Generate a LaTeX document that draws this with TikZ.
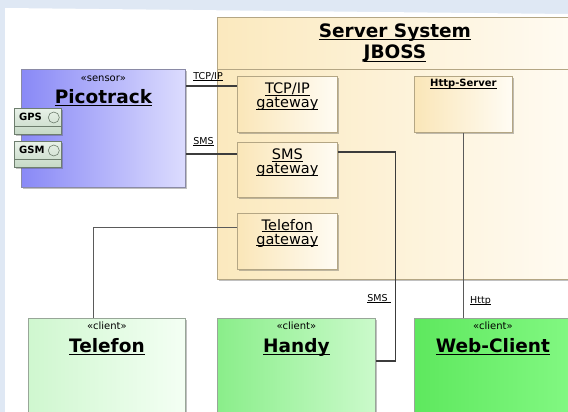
\documentclass[tikz,border=0pt]{standalone}
\usepackage{fontspec}
\setmainfont{DejaVu Sans}
\usetikzlibrary{positioning,shadows}
\definecolor{bgblue}{HTML}{DFE8F4}
\definecolor{linkgray}{HTML}{3C3C3C}
\definecolor{thingray}{HTML}{5A5A5A}
\definecolor{picoL}{HTML}{8989F6}
\definecolor{picoR}{HTML}{DCDCFE}
\definecolor{picoedge}{HTML}{8A8AA6}
\definecolor{srvL}{HTML}{FBE9BE}
\definecolor{srvR}{HTML}{FFFBF2}
\definecolor{srvedge}{HTML}{B4A684}
\definecolor{gwL}{HTML}{FAE6B8}
\definecolor{gwR}{HTML}{FFFCF4}
\definecolor{portT}{HTML}{E8F1E8}
\definecolor{portB}{HTML}{C6D9C6}
\definecolor{portedge}{HTML}{6E7E6E}
\definecolor{telL}{HTML}{CFF7CF}
\definecolor{telR}{HTML}{F4FFF4}
\definecolor{handyL}{HTML}{8AEE8A}
\definecolor{handyR}{HTML}{CBFACB}
\definecolor{webL}{HTML}{5EE85E}
\definecolor{webR}{HTML}{82F882}
\definecolor{clientedge}{HTML}{98A698}
\newcommand\ulbox[1]{\setbox0=\hbox{#1}\leavevmode\rlap{\vrule width\wd0 height -0.09em depth 0.16em}\box0}
\begin{document}
\begin{tikzpicture}[x=1pt,y=-1pt,
    box/.style={draw=#1, line width=0.8pt, anchor=north west, inner sep=0pt,
      drop shadow={shadow xshift=2pt, shadow yshift=-2pt, opacity=0.35, fill=black!70}},
    link/.style={draw=linkgray, line width=1.2pt},
    thinlink/.style={draw=thingray, line width=0.9pt},
    stereo/.style={anchor=base, inner sep=0pt, font=\fontsize{10}{12}\selectfont},
    title/.style={anchor=base, inner sep=0pt, font=\bfseries\fontsize{18.5}{21.5}\selectfont},
    gwtext/.style={anchor=base, align=center, inner sep=0pt, font=\fontsize{14.5}{14}\selectfont},
    lbl/.style={anchor=base west, inner sep=0pt, font=\fontsize{9.5}{11}\selectfont},
    porttext/.style={anchor=base west, inner sep=0pt, font=\bfseries\fontsize{10}{12}\selectfont}]
  \useasboundingbox (0,0) rectangle (568,412);
  \clip (0,0) rectangle (568,412);
  \fill[bgblue] (0,0) rectangle (568,412);
  \fill[white] (5,8) -- (568,14) -- (568,412) -- (5,412) -- cycle;

  \node[box=srvedge, left color=srvL, right color=srvR, minimum width=355pt, minimum height=262pt] (srv) at (217,17) {};
  \draw[srvedge, line width=0.8pt] ([yshift=-52pt]srv.north west) -- ([yshift=-52pt]srv.north east);
  \path (srv.north) ++(0,20.5) node[title] (srvT1) {\ulbox{Server System}}
    ++(0,21.5) node[title] (srvT2) {\ulbox{JBOSS}};

  \draw
    (237,76) node[box=srvedge, left color=gwL, right color=gwR, minimum width=100pt, minimum height=56pt] (tcpgw) {}
    (237,142) node[box=srvedge, left color=gwL, right color=gwR, minimum width=100pt, minimum height=55pt] (smsgw) {}
    (237,213) node[box=srvedge, left color=gwL, right color=gwR, minimum width=100pt, minimum height=56pt] (telgw) {}
    (414,76) node[box=srvedge, left color=gwL, right color=gwR, minimum width=98pt, minimum height=56pt] (http) {};
  \path (tcpgw.north) ++(0,31.5) node[gwtext] (tcpT) {\ulbox{TCP/IP}\\\ulbox{gateway}};
  \path (smsgw.north) ++(0,31.5) node[gwtext] (smsT) {\ulbox{SMS}\\\ulbox{gateway}};
  \path (telgw.north) ++(0,31) node[gwtext] (telT) {\ulbox{Telefon}\\\ulbox{gateway}};
  \path (http.north) ++(0,11) node[porttext, anchor=base] (httpT) {\ulbox{Http-Server}};

  \node[box=picoedge, left color=picoL, right color=picoR, minimum width=164pt, minimum height=118pt] (pico) at (21,69) {};
  \path (pico.north) ++(0,12.5) node[stereo] (picoS) {«sensor»}
    ++(0,21.5) node[title] (picoT) {\ulbox{Picotrack}};

  \draw
    (14,108) node[box=portedge, top color=portT, bottom color=portB, minimum width=47pt, minimum height=26pt] (gps) {}
    (14,141) node[box=portedge, top color=portT, bottom color=portB, minimum width=47pt, minimum height=26pt] (gsm) {};
  \draw[portedge, line width=0.8pt] ([yshift=8pt]gps.south west) -- ([yshift=8pt]gps.south east);
  \draw[portedge, line width=0.8pt] ([yshift=8pt]gsm.south west) -- ([yshift=8pt]gsm.south east);
  \draw[portedge, line width=0.6pt] ([xshift=-8pt,yshift=-9.5pt]gps.north east) circle (5.5pt);
  \draw[portedge, line width=0.6pt] ([xshift=-8pt,yshift=-9.5pt]gsm.north east) circle (5.5pt);
  \path (gps.north west) ++(5,12.5) node[porttext] (gpsT) {GPS};
  \path (gsm.north west) ++(5,12.5) node[porttext] (gsmT) {GSM};

  \draw
    (28,318) node[box=clientedge, left color=telL, right color=telR, minimum width=157pt, minimum height=110pt] (telefon) {}
    (217,318) node[box=clientedge, left color=handyL, right color=handyR, minimum width=158pt, minimum height=110pt] (handy) {}
    (414,318) node[box=clientedge, left color=webL, right color=webR, minimum width=157pt, minimum height=110pt] (web) {};
  \path (telefon.north) ++(0,11.5) node[stereo] (telS) {«client»} ++(0,23) node[title] (telN) {\ulbox{Telefon}};
  \path (handy.north) ++(0,11.5) node[stereo] (handyS) {«client»} ++(0,23) node[title] (handyN) {\ulbox{Handy}};
  \path (web.north) ++(0,11.5) node[stereo] (webS) {«client»} ++(0,23) node[title] (webN) {\ulbox{Web-Client}};

  \begin{scope}[link]
    \draw ([yshift=-17pt]pico.north east) -- ([yshift=-17pt]pico.north east -| tcpgw.west)
      node[lbl, at start, xshift=7pt, yshift=6.5pt] {\ulbox{TCP/IP}};
    \draw ([yshift=-85pt]pico.north east) -- ([yshift=-85pt]pico.north east -| smsgw.west)
      node[lbl, at start, xshift=7pt, yshift=10pt] {\ulbox{SMS}};
    \draw ([yshift=-10pt]smsgw.north east) -| ([xshift=20pt,yshift=-43pt]handy.north east) -- ([yshift=-43pt]handy.north east);
    \draw[thinlink] ([yshift=-14pt]telgw.north west) -| ([xshift=65pt]telefon.north west);
    \draw[thinlink] (http.south) -- (http.south |- web.north);
  \end{scope}
  \node[lbl, anchor=base east] (smsL) at ([xshift=15pt,yshift=17pt]handy.north east) {\ulbox{SMS\ }};
  \node[lbl] (httpL) at ([xshift=56pt,yshift=14.5pt]web.north west) {\ulbox{Http}};
\end{tikzpicture}
\end{document}
